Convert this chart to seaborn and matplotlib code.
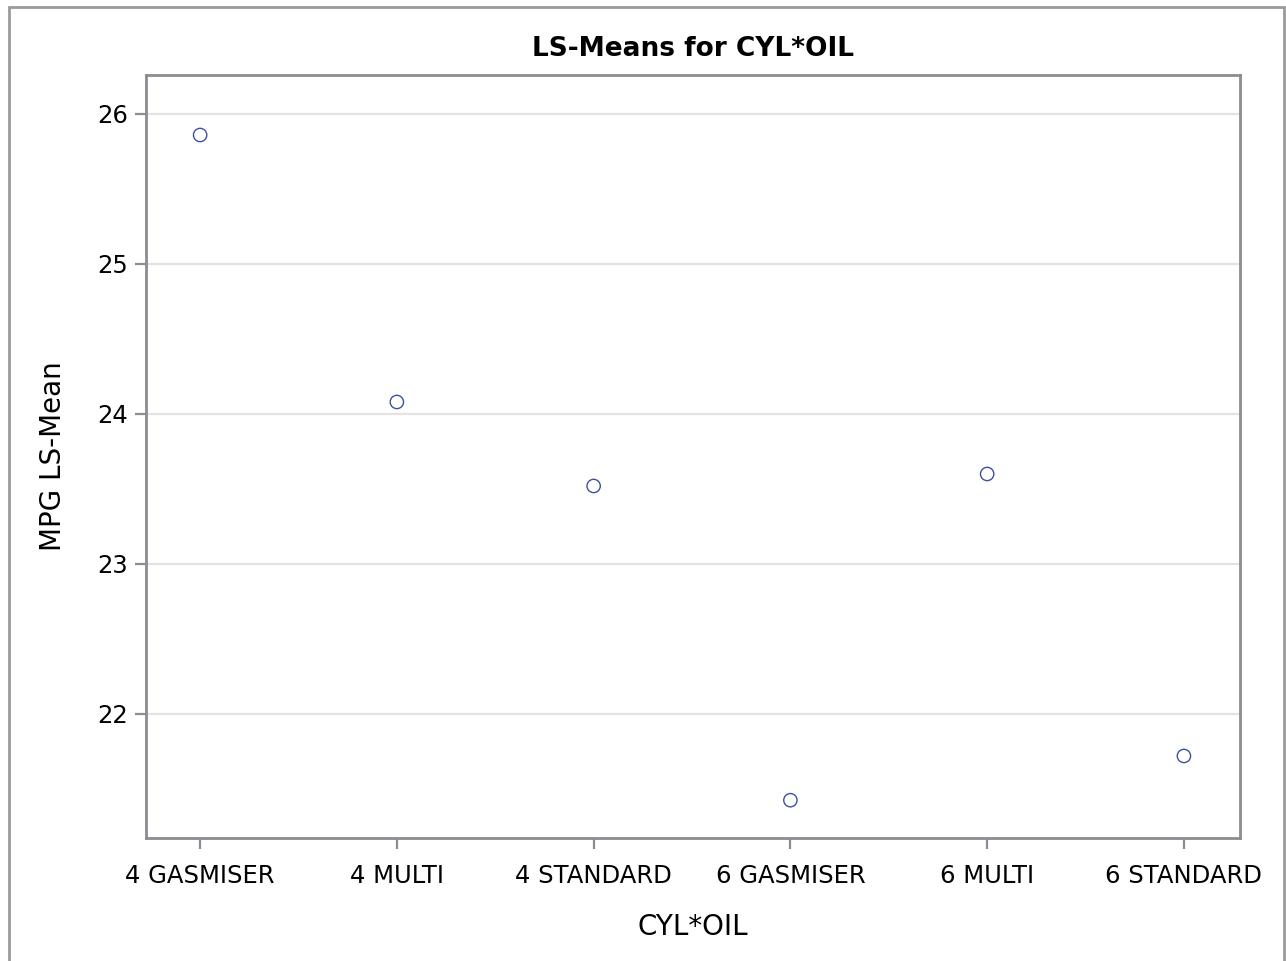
import matplotlib
matplotlib.use("Agg")
import matplotlib.pyplot as plt
from matplotlib.patches import Rectangle
import seaborn as sns
import pandas as pd

# LS-means of MPG for each CYL*OIL combination
levels = ["4 GASMISER", "4 MULTI", "4 STANDARD", "6 GASMISER", "6 MULTI", "6 STANDARD"]
lsmeans = [25.86, 24.08, 23.52, 21.425, 23.60, 21.72]
yticks = [22, 23, 24, 25, 26]

df = pd.DataFrame({"CYL*OIL": levels, "MPG LS-Mean": lsmeans})

sns.set_style("white")
plt.rcParams["font.family"] = ["DejaVu Sans"]

fig = plt.figure(figsize=(12.86, 9.61), dpi=100)
ax = fig.add_axes([146 / 1286, 1 - 838 / 961, (1240 - 146) / 1286, (838 - 75) / 961])

frame_color = "#8a8d91"
marker_color = "#3d50a0"

sns.scatterplot(data=df, x="CYL*OIL", y="MPG LS-Mean", ax=ax, marker="o",
                s=92, linewidth=1.0, zorder=3)
pts = ax.collections[0]
pts.set_facecolor("none")
pts.set_edgecolor(marker_color)

ax.set_xlim(-0.275, 5.285)
ax.set_ylim(21.173, 26.26)
ax.set_yticks(yticks)
ax.set_yticklabels([str(v) for v in yticks])
ax.yaxis.grid(True, color="#e3e3e3", linewidth=1.6)
ax.xaxis.grid(False)
ax.set_axisbelow(True)

for sp in ax.spines.values():
    sp.set_color(frame_color)
    sp.set_linewidth(2.0)

ax.tick_params(axis="both", which="major", direction="out", length=8, width=1.6,
               color=frame_color, labelsize=17.5, labelcolor="black", pad=5,
               left=True, bottom=True)
ax.tick_params(axis="x", pad=11)
ax.set_xlabel("CYL*OIL", fontsize=20, labelpad=18, color="black")
ax.set_ylabel("MPG LS-Mean", fontsize=20, labelpad=22, color="black")
ax.set_title("LS-Means for CYL*OIL", fontsize=19, fontweight="bold", pad=14,
             color="black")

# outer graph border
fig.patches.append(Rectangle((9 / 1286, -0.05), (1284 - 9) / 1286, 1.05 - 7 / 961,
                             transform=fig.transFigure, fill=False,
                             edgecolor="#9a9a9a", linewidth=2.0))

fig.savefig("out.png", dpi=100)
